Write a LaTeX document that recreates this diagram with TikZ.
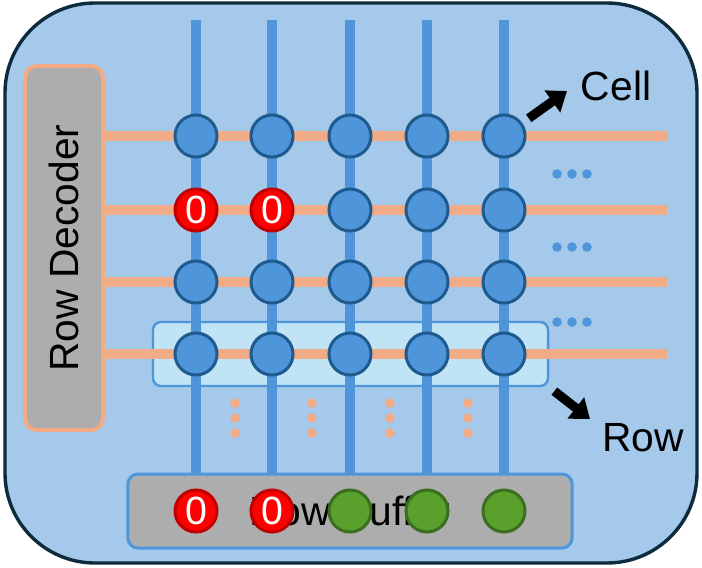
\documentclass[tikz,border=0pt]{standalone}
\usepackage{fontspec}
\setmainfont{Liberation Sans}
\usetikzlibrary{arrows.meta}

\definecolor{chipbg}{HTML}{A5C9EB}
\definecolor{chipedge}{HTML}{0E2A3D}
\definecolor{bitblue}{HTML}{4E95D9}
\definecolor{celledge}{HTML}{1F5A8E}
\definecolor{salmon}{HTML}{F1AB86}
\definecolor{boxgray}{HTML}{ADADAD}
\definecolor{rowhl}{HTML}{C0E4F5}
\definecolor{zerored}{HTML}{FF0000}
\definecolor{zeroedge}{HTML}{C00000}
\definecolor{onegreen}{HTML}{5AA02C}
\definecolor{oneedge}{HTML}{3B6E1F}

\begin{document}
\begin{tikzpicture}
[
x = 0.025cm, y = -0.025cm,
bigtext/.style = {font=\fontsize{29}{34}\selectfont},
wordline/.style = {draw=salmon, line width=0.25cm},
bitline/.style = {draw=bitblue, line width=0.25cm},
cell/.style = {circle, fill=bitblue, draw=celledge, line width=0.075cm, minimum size=1.05cm, inner sep=0pt},
zero/.style = {cell, fill=zerored, draw=zeroedge, text=white, font=\fontsize{28}{30}\selectfont},
one/.style = {cell, fill=onegreen, draw=oneedge},
pointer/.style = {line width=0.23cm, -{Triangle[length=0.45cm, width=0.65cm]}}
]
\path [use as bounding box] (0,0) rectangle (702,567);
\draw [fill=chipbg, draw=chipedge, line width=0.085cm, rounded corners=2.25cm] (5,3) rectangle (697,563);

% open row, decoder and buffer
\node (openrow) [rectangle, fill=rowhl, draw=bitblue, line width=0.06cm, rounded corners=0.2cm,
    minimum width=9.875cm, minimum height=1.6cm] at (350.5,354) {};
\node (decoder) [rectangle, fill=boxgray, draw=salmon, line width=0.1cm, rounded corners=0.3cm,
    minimum width=9.1cm, minimum height=1.95cm, rotate=90, bigtext] at (64,248) {Row Decoder};
\node (buffer) [rectangle, fill=boxgray, draw=bitblue, line width=0.075cm, rounded corners=0.25cm,
    minimum width=11.1cm, minimum height=1.85cm, bigtext] at (350,511) {Row Buffer};

% cell array
\foreach \r/\y in {1/136, 2/210, 3/282, 4/354}
    \foreach \k/\x in {1/196, 2/272, 3/350, 4/427, 5/504}
        \coordinate (c-\r-\k) at (\x,\y);
\foreach \k/\x in {1/196, 2/272, 3/350, 4/427, 5/504}
    \coordinate (top-\k) at (\x,20);
\foreach \r in {1,...,4}
    \draw [wordline] (decoder.south |- c-\r-1) -- ++(562,0);
\foreach \k in {1,...,5}
    \draw [bitline] (top-\k) -- (top-\k |- buffer.north);

\foreach \r in {1,...,4}
    \foreach \k in {1,...,5}
        {\ifnum\r=2 \ifnum\k<3
            \node (cell-\r-\k) [zero] at (c-\r-\k) {0};
         \else
            \node (cell-\r-\k) [cell] at (c-\r-\k) {};
         \fi
         \else
            \node (cell-\r-\k) [cell] at (c-\r-\k) {};
         \fi}

% buffered bits
\node (buf-1) [zero] at (top-1 |- buffer) {0};
\node (buf-2) [zero] at (top-2 |- buffer) {0};
\node (buf-3) [one] at (top-3 |- buffer) {};
\node (buf-4) [one] at (top-4 |- buffer) {};
\node (buf-5) [one] at (top-5 |- buffer) {};

% more columns / more rows
\foreach \y in {174, 247, 322}
    \foreach \x in {557, 572, 587}
        \fill [bitblue] (\x,\y) circle [radius=0.12cm];
\foreach \x in {235, 312, 390, 468}
    \foreach \y in {403, 418, 433}
        \fill [salmon] (\x,\y) circle [radius=0.12cm];

% callouts
\node (cellname) [bigtext] at (616,86) {Cell};
\node (rowname) [bigtext] at (643,438) {Row};
\coordinate (cell-tip) at (567,91);
\coordinate (row-tip) at (590,419);
\draw [pointer, shorten <=0.76cm] (cell-1-5.center) -- (cell-tip);
\draw [pointer, shorten <=0.16cm] (openrow.south east) -- (row-tip);
\end{tikzpicture}
\end{document}
